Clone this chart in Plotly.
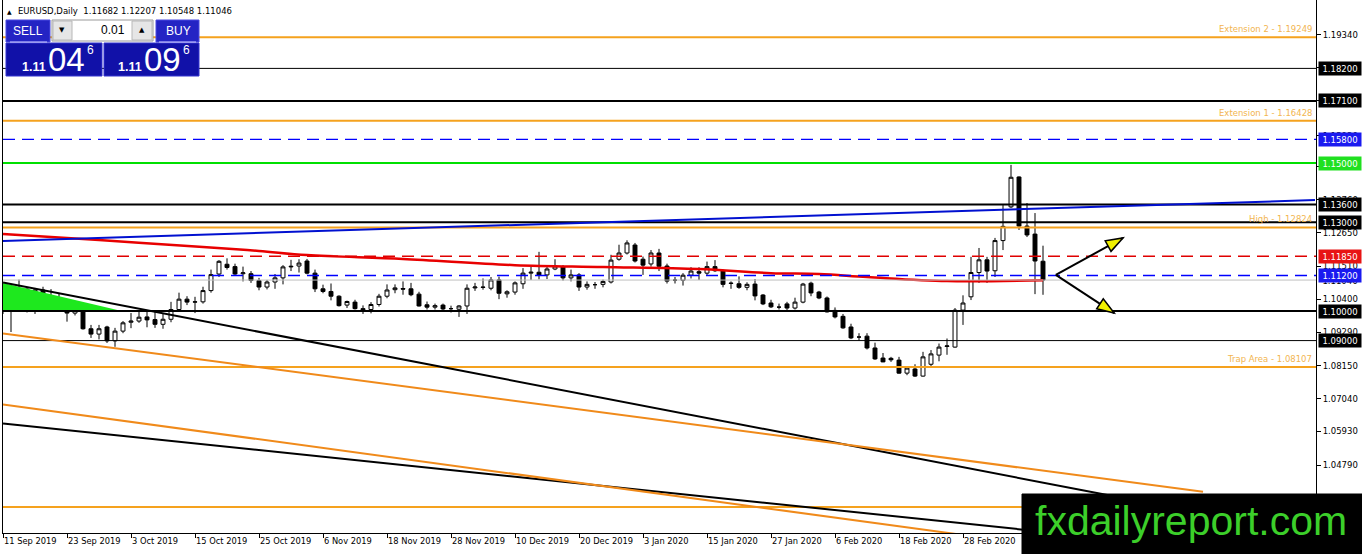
import math
import pandas as pd
import plotly.graph_objects as go

# trading days on the chart (broker has no bars for 25 Dec and 1 Jan)
dates = [d for d in pd.bdate_range("2019-09-11", "2020-03-13")
         if d.strftime("%m-%d") not in ("12-25", "01-01")]
bars = list(range(len(dates)))
date_text = [f"{d.day} {d:%b %Y}" for d in dates]

# EURUSD daily candles
opens = [1.1043, 1.1009, 1.1063, 1.1074, 1.1000, 1.1071, 1.1030, 1.1040, 1.1018, 1.0993,
         1.1020, 1.0940, 1.0922, 1.0946, 1.0899, 1.0932, 1.0962, 1.0966, 1.0980, 1.0971,
         1.0955, 1.0972, 1.1005, 1.1040, 1.1030, 1.1031, 1.1069, 1.1125, 1.1158, 1.1150,
         1.1126, 1.1126, 1.1103, 1.1081, 1.1098, 1.1112, 1.1149, 1.1152, 1.1169, 1.1128,
         1.1075, 1.1066, 1.1050, 1.1020, 1.1030, 1.1008, 1.1005, 1.1022, 1.1050, 1.1072,
         1.1076, 1.1075, 1.1057, 1.1021, 1.1013, 1.1020, 1.1008, 1.1006, 1.1017, 1.1078,
         1.1081, 1.1077, 1.1105, 1.1058, 1.1064, 1.1092, 1.1128, 1.1131, 1.1122, 1.1142,
         1.1150, 1.1112, 1.1122, 1.1081, 1.1089, 1.1090, 1.1098, 1.1175, 1.1196, 1.1223,
         1.1175, 1.1159, 1.1196, 1.1152, 1.1104, 1.1104, 1.1121, 1.1133, 1.1128, 1.1150,
         1.1136, 1.1093, 1.1092, 1.1080, 1.1091, 1.1054, 1.1027, 1.1013, 1.1024, 1.1010,
         1.1030, 1.1094, 1.1064, 1.1044, 1.1002, 1.0982, 1.0946, 1.0912, 1.0915, 1.0875,
         1.0841, 1.0840, 1.0834, 1.0790, 1.0804, 1.0780, 1.0820, 1.0851, 1.0880, 1.0878,
         1.1003, 1.1048, 1.1130, 1.1173, 1.1136, 1.1238, 1.1352, 1.1453, 1.1287, 1.1260,
         1.11682]
highs = [1.1056, 1.1087, 1.1106, 1.1077, 1.1078, 1.1082, 1.1074, 1.1060, 1.1020, 1.1025,
         1.1023, 1.0953, 1.0953, 1.0950, 1.0943, 1.0966, 1.0993, 1.1000, 1.1000, 1.0998,
         1.0990, 1.1031, 1.1062, 1.1050, 1.1048, 1.1082, 1.1140, 1.1172, 1.1178, 1.1160,
         1.1150, 1.1135, 1.1112, 1.1105, 1.1125, 1.1155, 1.1173, 1.1175, 1.1176, 1.1140,
         1.1089, 1.1093, 1.1053, 1.1035, 1.1038, 1.1019, 1.1030, 1.1058, 1.1090, 1.1090,
         1.1100, 1.1095, 1.1065, 1.1032, 1.1025, 1.1025, 1.1018, 1.1020, 1.1090, 1.1095,
         1.1110, 1.1115, 1.1116, 1.1070, 1.1100, 1.1145, 1.1150, 1.1200, 1.1150, 1.1175,
         1.1155, 1.1140, 1.1128, 1.1100, 1.1098, 1.1106, 1.1190, 1.1224, 1.1239, 1.1230,
         1.1184, 1.1206, 1.1210, 1.1160, 1.1115, 1.1128, 1.1148, 1.1148, 1.1167, 1.1172,
         1.1140, 1.1100, 1.1117, 1.1097, 1.1108, 1.1057, 1.1038, 1.1025, 1.1031, 1.1045,
         1.1095, 1.1099, 1.1068, 1.1049, 1.1012, 1.0990, 1.0957, 1.0925, 1.0925, 1.0893,
         1.0858, 1.0845, 1.0845, 1.0807, 1.0820, 1.0862, 1.0868, 1.0890, 1.0907, 1.1010,
         1.1053, 1.1183, 1.1213, 1.1183, 1.1247, 1.1358, 1.1494, 1.1455, 1.1365, 1.1331,
         1.12207]
lows = [1.0990, 1.0929, 1.1054, 1.0995, 1.0990, 1.0998, 1.1020, 1.1000, 1.0964, 1.0985,
        1.0937, 1.0909, 1.0904, 1.0892, 1.0879, 1.0925, 1.0942, 1.0960, 1.0945, 1.0943,
        1.0940, 1.0962, 1.1000, 1.1020, 1.0993, 1.1025, 1.1062, 1.1115, 1.1140, 1.1120,
        1.1100, 1.1095, 1.1070, 1.1073, 1.1075, 1.1090, 1.1135, 1.1130, 1.1124, 1.1064,
        1.1060, 1.1036, 1.1015, 1.1010, 1.1005, 1.0990, 1.0992, 1.1015, 1.1043, 1.1060,
        1.1055, 1.1050, 1.1015, 1.1005, 1.1005, 1.1000, 1.0995, 1.0980, 1.0990, 1.1068,
        1.1072, 1.1070, 1.1040, 1.1045, 1.1055, 1.1075, 1.1105, 1.1107, 1.1108, 1.1138,
        1.1103, 1.1100, 1.1068, 1.1072, 1.1075, 1.1080, 1.1093, 1.1170, 1.1191, 1.1164,
        1.1122, 1.1150, 1.1135, 1.1093, 1.1093, 1.1086, 1.1110, 1.1105, 1.1120, 1.1132,
        1.1080, 1.1075, 1.1075, 1.1070, 1.1036, 1.1020, 1.1010, 1.1005, 1.0998, 1.1005,
        1.1026, 1.1050, 1.1040, 1.0995, 1.0975, 1.0940, 1.0905, 1.0900, 1.0870, 1.0835,
        1.0827, 1.0828, 1.0788, 1.0783, 1.0777, 1.0778, 1.0812, 1.0830, 1.0852, 1.0876,
        1.0953, 1.1037, 1.1095, 1.1095, 1.1115, 1.1206, 1.1348, 1.1274, 1.1250, 1.1057,
        1.10548]
closes = [1.1000, 1.1063, 1.1074, 1.1000, 1.1071, 1.1030, 1.1040, 1.1018, 1.0993, 1.1020,
          1.0940, 1.0922, 1.0940, 1.0899, 1.0932, 1.0960, 1.0966, 1.0979, 1.0970, 1.0955,
          1.0972, 1.1005, 1.1040, 1.1030, 1.1031, 1.1069, 1.1123, 1.1168, 1.1147, 1.1125,
          1.1129, 1.1103, 1.1081, 1.1098, 1.1112, 1.1149, 1.1151, 1.1162, 1.1128, 1.1075,
          1.1066, 1.1050, 1.1018, 1.1032, 1.1008, 1.1004, 1.1022, 1.1050, 1.1071, 1.1078,
          1.1074, 1.1055, 1.1017, 1.1013, 1.1018, 1.1007, 1.1008, 1.1017, 1.1077, 1.1081,
          1.1080, 1.1105, 1.1060, 1.1065, 1.1095, 1.1128, 1.1131, 1.1122, 1.1142, 1.1152,
          1.1112, 1.1122, 1.1081, 1.1090, 1.1089, 1.1100, 1.1172, 1.1196, 1.1230, 1.1169,
          1.1155, 1.1196, 1.1151, 1.1101, 1.1104, 1.1121, 1.1135, 1.1128, 1.1150, 1.1136,
          1.1090, 1.1094, 1.1080, 1.1090, 1.1051, 1.1024, 1.1014, 1.1013, 1.1010, 1.1030,
          1.1091, 1.1061, 1.1044, 1.0997, 1.0980, 1.0943, 1.0909, 1.0912, 1.0875, 1.0838,
          1.0828, 1.0835, 1.0790, 1.0807, 1.0780, 1.0845, 1.0855, 1.0878, 1.0882, 1.1003,
          1.1027, 1.1130, 1.1173, 1.1135, 1.1238, 1.1286, 1.1452, 1.1287, 1.1257, 1.1169,
          1.11046]

# red moving average, read at a handful of bars
ma_bars = [0, 12, 25, 32, 38, 50, 64, 75, 87, 96, 102, 108, 118, 130]
ma_values = [1.1260, 1.1240, 1.1216, 1.1203, 1.1189, 1.1176, 1.1155, 1.1149, 1.1142,
             1.1128, 1.1125, 1.1115, 1.1101, 1.1104]

# horizontal levels
fib_levels = [1.19249, 1.16428, 1.12824, 1.08107, 1.03375]
fib_names = ["Extension 2", "Extension 1", "High", "Trap Area", ""]
black_thin_levels = [1.18200, 1.09000]
black_thick_levels = [1.17100, 1.13600, 1.13000, 1.10000]
green_levels = [1.15000]
blue_dash_levels = [1.15800, 1.11200]
red_dash_levels = [1.11850]

# trend lines as (bars, prices)
blue_trend = ([0, 164], [1.1237, 1.1375])
black_trends = [([0, 140], [1.1096, 1.0368]), ([0, 130], [1.0620, 1.0254])]
orange_trends = [([0, 150], [1.0924, 1.0389]), ([0, 120], [1.0684, 1.0243])]

# green triangle at the start of the chart
tri_bars = [0, 0, 14.3]
tri_prices = [1.1095, 1.1000, 1.1003]

# the two projection arrows
arrow_start = (131.6, 1.1122)
arrow_ends = [(140.0, 1.1247), (138.9, 1.0993)]

# one click trading quotes
bid_price = 1.11046
ask_price = 1.11096

# price axis ticks
y_ticks = [1.19340, 1.18230, 1.17100, 1.15930, 1.14870, 1.13760, 1.12650, 1.11510,
           1.10400, 1.09290, 1.08150, 1.07040, 1.05930, 1.04790, 1.03680]
x_tick_labels = ["11 Sep 2019", "23 Sep 2019", "3 Oct 2019", "15 Oct 2019", "25 Oct 2019",
                 "6 Nov 2019", "18 Nov 2019", "28 Nov 2019", "10 Dec 2019", "20 Dec 2019",
                 "3 Jan 2020", "15 Jan 2020", "27 Jan 2020", "6 Feb 2020", "18 Feb 2020",
                 "28 Feb 2020"]

# ---- geometry of the page
W, H = 1362, 554
ML, MR, MT, MB = 3, 46, 0, 21
PW, PH = W - ML - MR, H - MT - MB
X_RANGE = [0, PW / 8]
Y_RANGE = [1.024964, 1.205118]

ORANGE = "#F5A21E"
ORANGE_TXT = "#F2B550"
FONT = "DejaVu Sans"
ARIAL = "Liberation Sans, Arial"


def px(x):
    return (x - ML) / PW


def py(y):
    return (MT + PH - y) / PH


def to_pix(bar, price):
    x = ML + (bar - X_RANGE[0]) / (X_RANGE[1] - X_RANGE[0]) * PW
    y = MT + (Y_RANGE[1] - price) / (Y_RANGE[1] - Y_RANGE[0]) * PH
    return x, y


fig = go.Figure()

fig.add_trace(go.Scatter(
    x=tri_bars, y=tri_prices, fill="toself", mode="lines",
    fillcolor="#1EE81E", line=dict(color="#1EE81E", width=0), hoverinfo="skip"))

fig.add_trace(go.Candlestick(
    x=bars, open=opens, high=highs, low=lows, close=closes,
    increasing=dict(line=dict(color="black", width=1), fillcolor="white"),
    decreasing=dict(line=dict(color="black", width=1), fillcolor="black"),
    whiskerwidth=0, hoverinfo="skip"))

fig.add_trace(go.Scatter(
    x=ma_bars, y=ma_values, mode="lines", line=dict(color="#E80000", width=2.5, shape="spline"),
    hoverinfo="skip"))

shapes = []


def hline(price, color, width, dash="solid"):
    shapes.append(dict(type="line", xref="paper", yref="y", x0=0, x1=1, y0=price, y1=price,
                       line=dict(color=color, width=width, dash=dash), layer="above"))


hline(closes[-1], "#C0C0C0", 1)
for p in fib_levels:
    hline(p, ORANGE, 2)
for p in black_thin_levels:
    hline(p, "black", 1)
for p in black_thick_levels:
    hline(p, "black", 2)
for p in green_levels:
    hline(p, "#00E000", 2)
for p in blue_dash_levels:
    hline(p, "#0000FF", 1.3, "12px,7px")
for p in red_dash_levels:
    hline(p, "#E00000", 1.3, "12px,7px")

for (bx, by), col in [(blue_trend, "#0010D0")] + [(t, "black") for t in black_trends] + \
        [(t, "#F08A1A") for t in orange_trends]:
    shapes.append(dict(type="line", xref="x", yref="y", x0=bx[0], x1=bx[1], y0=by[0], y1=by[1],
                       line=dict(color=col, width=2), layer="above"))

# arrows with yellow heads
sx, sy = to_pix(*arrow_start)
for end in arrow_ends:
    ex, ey = to_pix(*end)
    shapes.append(dict(type="line", xref="x", yref="y", x0=arrow_start[0], y0=arrow_start[1],
                       x1=end[0], y1=end[1], line=dict(color="black", width=2), layer="above"))
    d = math.hypot(ex - sx, ey - sy)
    ux, uy = (ex - sx) / d, (ey - sy) / d
    bx, by = ex - 17 * ux, ey - 17 * uy
    pts = [(ex, ey), (bx - 6 * uy, by + 6 * ux), (bx + 6 * uy, by - 6 * ux)]
    path = "M " + " L ".join(f"{px(a):.5f},{py(b):.5f}" for a, b in pts) + " Z"
    shapes.append(dict(type="path", xref="paper", yref="paper", path=path,
                       fillcolor="#F0F000", line=dict(color="black", width=1.5), layer="above"))


def rect(x0, y0, x1, y1, fill, line=None, width=1):
    shapes.append(dict(type="rect", xref="paper", yref="paper",
                       x0=px(x0), x1=px(x1), y0=py(y1), y1=py(y0),
                       fillcolor=fill, line=dict(color=line or fill, width=width), layer="above"))


# one click trading panel
rect(6, 20, 50, 42, "#2424C4", "#4a4ae0")
rect(156, 20, 199, 42, "#2424C4", "#4a4ae0")
rect(6, 43, 102, 76, "#1111A8", "#3535d0")
rect(104, 43, 199, 76, "#1111A8", "#3535d0")
rect(52, 20, 153, 41, "white", "#9a9a9a")
rect(53, 21, 72, 40, "#E6E6E6", "#b8b8b8")
rect(132, 21, 152, 40, "#E6E6E6", "#b8b8b8")
shapes.append(dict(type="line", xref="paper", yref="paper", x0=px(10), x1=px(47),
                   y0=py(42), y1=py(42), line=dict(color="#c8c8ff", width=1), layer="above"))
shapes.append(dict(type="line", xref="paper", yref="paper", x0=px(159), x1=px(196),
                   y0=py(42), y1=py(42), line=dict(color="#c8c8ff", width=1), layer="above"))

# logo box
rect(1022, 494, 1362, 554, "black")

annotations = []


def text(x, y, s, size, color="black", family=FONT, xanchor="center", yanchor="middle"):
    annotations.append(dict(xref="paper", yref="paper", x=px(x), y=py(y), text=s,
                            showarrow=False, xanchor=xanchor, yanchor=yanchor,
                            font=dict(family=family, size=size, color=color)))


text(5, 11, "▲", 6, xanchor="left")
text(16, 11, "EURUSD,Daily  " + " ".join(f"{v:.5f}" for v in
                                         (opens[-1], highs[-1], lows[-1], closes[-1])),
     8.5, xanchor="left")

text(28, 31, "SELL", 12, "white", ARIAL)
text(178, 31, "BUY", 12, "white", ARIAL)
text(127, 30, "0.01", 12, "black", ARIAL, xanchor="right")
text(62, 30, "▼", 7)
text(142, 30, "▲", 7)
for x0, q in [(20, bid_price), (116, ask_price)]:
    s = f"{q:.5f}"
    text(x0, 67, "<b>" + s[:4] + "</b>", 12.5, "white", ARIAL, xanchor="left")
    text(x0 + 26, 59, s[4:6], 33, "white", ARIAL, xanchor="left")
    text(x0 + 65, 50, s[6], 12, "white", ARIAL, xanchor="left")

# level names on the right
for p, name in zip(fib_levels, fib_names):
    if name:
        annotations.append(dict(xref="paper", yref="y", x=1, y=p, xshift=-2, yshift=1,
                                text=f"{name} - {p:.5f}", showarrow=False,
                                xanchor="right", yanchor="bottom",
                                font=dict(family=FONT, size=8.5, color=ORANGE_TXT)))

# coloured price tags on the axis
tags = [(1.18200, "black", "white"), (1.17100, "black", "white"), (1.15800, "#1A1AF0", "white"),
        (1.15000, "#20E020", "white"), (1.13600, "black", "white"), (1.13000, "black", "white"),
        (1.11850, "#E81414", "white"), (closes[-1], "white", "black"),
        (1.11200, "#1A1AF0", "white"), (1.10000, "black", "white"), (1.09000, "black", "white")]
for p, bg, fg in tags:
    annotations.append(dict(xref="paper", yref="y", x=1, y=p, xshift=2, text=f"{p:.5f}",
                            showarrow=False, xanchor="left", yanchor="middle", bgcolor=bg,
                            borderpad=1, width=40, height=11,
                            font=dict(family=FONT, size=8.5, color=fg)))

text(1191, 521, "fxdailyreport.com", 41, "#3CCF2A", ARIAL)

fig.update_layout(
    width=W, height=H, margin=dict(l=ML, r=MR, t=MT, b=MB),
    paper_bgcolor="white", plot_bgcolor="white", showlegend=False,
    shapes=shapes, annotations=annotations,
    xaxis=dict(range=X_RANGE, rangeslider=dict(visible=False), showgrid=False, zeroline=False,
               showline=True, linecolor="black", linewidth=1, ticks="outside", ticklen=4,
               tickcolor="black", tickvals=[date_text.index(t) for t in x_tick_labels],
               ticktext=x_tick_labels, ticklabelposition="outside right",
               tickfont=dict(family=FONT, size=8.3, color="black")),
    yaxis=dict(side="right", range=Y_RANGE, showgrid=False, zeroline=False, showline=True,
               mirror=True, linecolor="black", linewidth=1, ticks="outside", ticklen=4,
               tickcolor="black", tickvals=y_ticks, ticktext=[f"{v:.5f}" for v in y_ticks],
               tickfont=dict(family=FONT, size=8.5, color="black")),
)

fig.write_html("out.html", config={"displayModeBar": False},
               post_script="document.body.style.margin='0';document.body.style.overflow='hidden';")
